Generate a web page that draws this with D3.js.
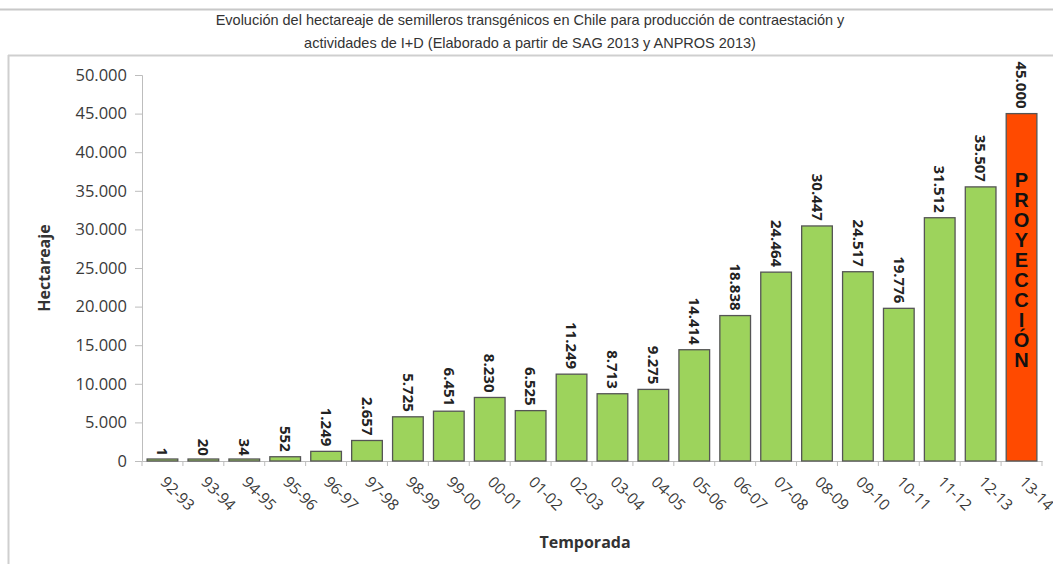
<!DOCTYPE html>
<html>
<head>
<meta charset="utf-8">
<script src="https://cdn.jsdelivr.net/npm/d3@7"></script>
<style>
  body { margin: 0; background: #fff; }
  svg text { font-family: "Open Sans", "DejaVu Sans", sans-serif; }
</style>
</head>
<body>
<div id="chart"></div>
<script>
// data
const seasons = ["92-93","93-94","94-95","95-96","96-97","97-98","98-99","99-00","00-01","01-02",
  "02-03","03-04","04-05","05-06","06-07","07-08","08-09","09-10","10-11","11-12","12-13","13-14"]
const hectares = [1,20,34,552,1249,2657,5725,6451,8230,6525,11249,8713,9275,14414,18838,24464,
  30447,24517,19776,31512,35507,45000]
const projected = ["13-14"]
const yTicks = [0,5000,10000,15000,20000,25000,30000,35000,40000,45000,50000]
const titleLines = [
  "Evolución del hectareaje de semilleros transgénicos en Chile para producción de contraestación y",
  "actividades de I+D (Elaborado a partir de SAG 2013 y ANPROS 2013)"
]
const projLabel = "PROYECCIÓN"

const width = 1053
const height = 564
const loc = d3.formatLocale({decimal: ",", thousands: ".", grouping: [3], currency: ["$",""]})
const fmt = loc.format(",d")

const svg = d3.select("#chart").append("svg")
  .attr("width", width).attr("height", height)

// frame lines
svg.append("line").attr("x1", 0).attr("x2", width).attr("y1", 9.5).attr("y2", 9.5)
  .style("stroke", "#c8c8c8").style("stroke-width", 2)
svg.append("line").attr("x1", 8).attr("x2", width).attr("y1", 55.5).attr("y2", 55.5)
  .style("stroke", "#cfcfcf").style("stroke-width", 2)
svg.append("line").attr("x1", 8.5).attr("x2", 8.5).attr("y1", 55).attr("y2", height)
  .style("stroke", "#cfcfcf").style("stroke-width", 2)

// title
svg.selectAll("text.title").data(titleLines).enter().append("text")
  .attr("class", "title")
  .attr("x", 530).attr("y", (d, i) => 25 + i * 23)
  .attr("text-anchor", "middle")
  .style("font-family", "'Liberation Sans', Arial, sans-serif")
  .style("font-size", "14.5px")
  .style("fill", "#333")
  .text(d => d)

const x = d3.scaleBand().domain(seasons).range([142, 1042]).paddingInner(0.25).paddingOuter(0.125)
const y = d3.scaleLinear().domain([0, 50000]).range([461, 75])

// y axis
const yAxis = svg.append("g").attr("transform", "translate(142,0)")
  .call(d3.axisLeft(y).tickValues(yTicks).tickFormat(fmt).tickSize(7).tickPadding(8))
yAxis.select(".domain").style("stroke", "#bdbdbd")
yAxis.selectAll(".tick line").style("stroke", "#bdbdbd")
yAxis.selectAll(".tick text").style("font-size", "16.5px").style("fill", "#3a3a3a")
  .style("font-family", "'Open Sans', sans-serif")

// x axis
const xAxis = svg.append("g").attr("transform", "translate(0,461)")
  .call(d3.axisBottom(x).tickSize(0).tickPadding(0))
xAxis.select(".domain").style("stroke", "#bdbdbd")
xAxis.selectAll(".tick text")
  .attr("text-anchor", "start")
  .attr("transform", "translate(-3,22) rotate(45)")
  .attr("y", 0).attr("dy", "0")
  .style("font-size", "15.5px").style("fill", "#3a3a3a")
// band boundary ticks
svg.append("g").selectAll("line").data(seasons.concat(["end"])).enter().append("line")
  .attr("x1", (d, i) => 142 + i * x.step()).attr("x2", (d, i) => 142 + i * x.step())
  .attr("y1", 461).attr("y2", 466)
  .style("stroke", "#bdbdbd")

// bars
svg.append("g").selectAll("rect").data(seasons).enter().append("rect")
  .attr("x", d => x(d))
  .attr("width", x.bandwidth())
  .attr("y", (d, i) => Math.min(y(hectares[i]), 459))
  .attr("height", (d, i) => Math.max(461 - y(hectares[i]), 2))
  .style("fill", d => projected.includes(d) ? "#ff4a00" : "#9dd35c")
  .style("stroke", "#555")
  .style("stroke-width", 1.3)

// value labels (rotated)
svg.append("g").selectAll("text").data(seasons).enter().append("text")
  .attr("transform", (d, i) => `translate(${x(d) + x.bandwidth() / 2},${y(hectares[i]) - 5}) rotate(90)`)
  .attr("text-anchor", "end")
  .attr("dy", "0.35em")
  .style("font-size", "15px")
  .style("font-weight", "bold")
  .style("fill", "#222")
  .text((d, i) => fmt(hectares[i]))

// projection label, upright letters stacked inside the orange bar
const px = x(projected[0]) + x.bandwidth() / 2
svg.append("text")
  .attr("x", px)
  .attr("y", 169)
  .style("writing-mode", "vertical-rl")
  .style("text-orientation", "upright")
  .style("font-family", "'Liberation Sans', Arial, sans-serif")
  .style("font-size", "20px")
  .style("font-weight", "bold")
  .style("letter-spacing", "-2px")
  .style("fill", "#111")
  .text(projLabel)

// axis titles
svg.append("text")
  .attr("x", 585).attr("y", 548)
  .attr("text-anchor", "middle")
  .style("font-size", "16px").style("font-weight", "bold").style("fill", "#333")
  .text("Temporada")

svg.append("text")
  .attr("transform", "translate(50,268) rotate(-90)")
  .attr("text-anchor", "middle")
  .style("font-size", "16px").style("font-weight", "bold").style("fill", "#333")
  .text("Hectareaje")
</script>
</body>
</html>
